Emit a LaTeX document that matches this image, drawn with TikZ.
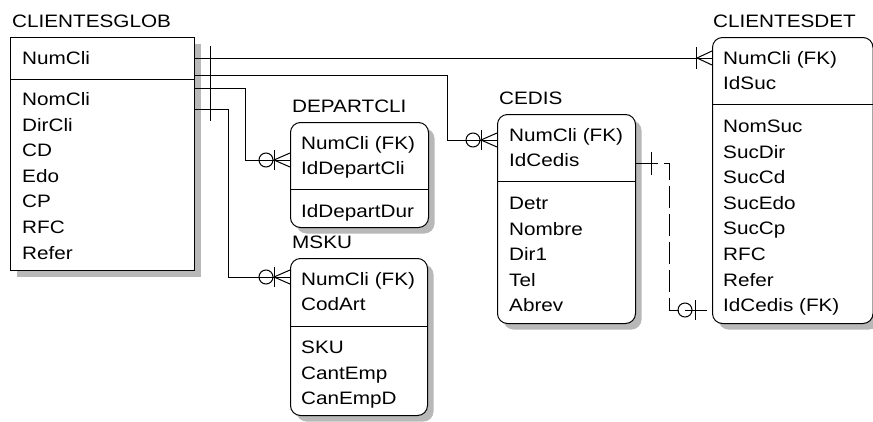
\documentclass[tikz,border=0pt]{standalone}
\usepackage{fontspec}
\setmainfont{Liberation Sans}[FakeStretch=1.15]
\usetikzlibrary{shadows}
\tikzstyle{entity}=[
        draw,
        line width=1pt,
        fill=white,
        anchor=north west,
        inner sep=0pt,
        drop shadow={shadow xshift=6pt, shadow yshift=-6pt, fill=black!28, opacity=1}
]
\tikzstyle{depent}=[entity, rounded corners=10pt]
\tikzstyle{enttitle}=[anchor=base west, inner sep=0pt, font=\fontsize{18}{22}\selectfont]
\tikzstyle{attr}=[anchor=base west, inner sep=0pt, font=\fontsize{18}{22}\selectfont]
\tikzstyle{rel}=[line width=1pt]
\tikzstyle{nonident}=[rel, dash pattern=on 22pt off 6pt]

\begin{document}
\begin{tikzpicture}[x=1pt,y=-1pt]
                    \fill[white] (0,0) rectangle (873,421);
                    \useasboundingbox (0,0) rectangle (873,421);

                    % CLIENTESGLOB
                    \node[enttitle] (globt) at (12,27.5) {CLIENTESGLOB};
                    \node[entity, minimum width=184pt, minimum height=233pt] (glob) at (10,37) {};
                    \draw[rel] (glob.west |- 0,79) -- (glob.east |- 0,79);
                    \node[attr] (globk1) at (22,64.5) {NumCli};
                    \foreach \a [count=\i] in {NomCli,DirCli,CD,Edo,CP,RFC,Refer} {
                        \node[attr] (globa\i) at (22,{105.5+25.6*(\i-1)}) {\a};
                    }

                    % DEPARTCLI
                    \node[enttitle] (dept) at (292,112.5) {DEPARTCLI};
                    \node[depent, minimum width=138pt, minimum height=105pt] (dep) at (290,122) {};
                    \draw[rel] (dep.west |- 0,189) -- (dep.east |- 0,189);
                    \node[attr] (depk1) at (301,149.5) {NumCli (FK)};
                    \node[attr] (depk2) at (301,174.5) {IdDepartCli};
                    \node[attr] (depa1) at (301,217.5) {IdDepartDur};

                    % MSKU
                    \node[enttitle] (mskut) at (292,248.5) {MSKU};
                    \node[depent, minimum width=137pt, minimum height=157pt] (msku) at (290,258) {};
                    \draw[rel] (msku.west |- 0,326) -- (msku.east |- 0,326);
                    \node[attr] (muk1) at (301,285.5) {NumCli (FK)};
                    \node[attr] (muk2) at (301,310.5) {CodArt};
                    \foreach \a [count=\i] in {SKU,CantEmp,CanEmpD} {
                        \node[attr] (mua\i) at (301,{353.5+25.6*(\i-1)}) {\a};
                    }

                    % CEDIS
                    \node[enttitle] (cedt) at (499,104.5) {CEDIS};
                    \node[depent, minimum width=138pt, minimum height=209pt] (cedis) at (497,114) {};
                    \draw[rel] (cedis.west |- 0,181) -- (cedis.east |- 0,181);
                    \node[attr] (cedk1) at (509,141.5) {NumCli (FK)};
                    \node[attr] (cedk2) at (509,166.5) {IdCedis};
                    \foreach \a [count=\i] in {Detr,Nombre,Dir1,Tel,Abrev} {
                        \node[attr] (ceda\i) at (509,{209.5+25.6*(\i-1)}) {\a};
                    }

                    % CLIENTESDET
                    \node[enttitle] (dett) at (713,27.5) {CLIENTESDET};
                    \node[depent, minimum width=160.5pt, minimum height=286pt] (det) at (712,37) {};
                    \draw[rel] (det.west |- 0,104) -- (det.east |- 0,104);
                    \node[attr] (detk1) at (723,64.5) {NumCli (FK)};
                    \node[attr] (detk2) at (723,89.5) {IdSuc};
                    \foreach \a [count=\i] in {NomSuc,SucDir,SucCd,SucEdo,SucCp,RFC,Refer,IdCedis (FK)} {
                        \node[attr] (deta\i) at (723,{132.5+25.6*(\i-1)}) {\a};
                    }

                    % relationships
                    \draw[rel] (glob.east |- 0,58) -- (det.west |- 0,58);
                    \draw[rel] (glob.east |- 0,75) -| (447,140) -- (cedis.west |- 0,140);
                    \draw[rel] (glob.east |- 0,88) -| (245,160) -- (dep.west |- 0,160);
                    \draw[rel] (glob.east |- 0,109) -| (228,277) -- (msku.west |- 0,277);
                    \draw[nonident] (cedis.east |- 0,163) -| (669,310) -- (det.west |- 0,310);

                    % one side marks
                    \foreach \y in {58,75,88,109} {
                        \draw[rel] (210,{\y-12}) -- (210,{\y+12});
                    }
                    \draw[rel] (651,152) -- (651,175);

                    % zero or many
                    \foreach \x/\y in {290/160,497/140,290/277} {
                        \draw[rel] ({\x-24},\y) circle (7pt);
                        \draw[rel] ({\x-16},{\y-10}) -- ({\x-16},{\y+10});
                        \draw[rel] (\x,{\y-7}) -- ({\x-16},\y) -- (\x,{\y+7});
                    }

                    % one or many
                    \draw[rel] (696,47) -- (696,69);
                    \draw[rel] (712,51) -- (697,58) -- (712,65);

                    % zero or one
                    \draw[rel] (685,310) circle (7pt);
                    \draw[rel] (695,300) -- (695,320);
                \end{tikzpicture}
\end{document}
